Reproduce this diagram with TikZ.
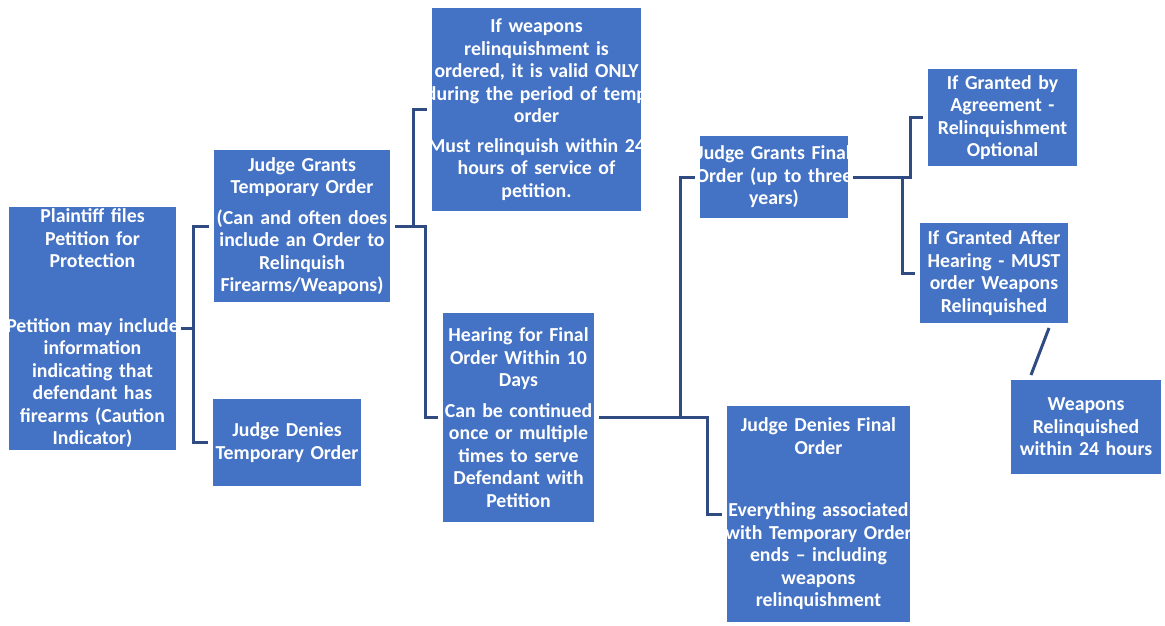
\documentclass[tikz,border=0pt]{standalone}
\usepackage{fontspec}
\setmainfont{Carlito}
\definecolor{boxblue}{HTML}{4472C4}
\definecolor{linkblue}{HTML}{2F4B82}
\begin{document}
\begin{tikzpicture}[x=1pt, y=-1pt,
    stepbox/.style={rectangle, fill=boxblue, text=white, inner xsep=-20pt, inner ysep=0pt,
        outer sep=5pt, align=center, font=\fontsize{19.8}{22.5}\selectfont\bfseries},
    link/.style={draw=linkblue, line width=3pt}]

    \useasboundingbox (0,0) rectangle (1165,626);

    % Cajas de la primera etapa (text width = ancho de caja + 40pt)
    \node[stepbox, text width=207pt, minimum height=243pt] (plaintiff) at (92.5, 328.5)
        {Plaintiff files\\Petition for\\Protection\\[42pt]Petition may include\\information\\indicating that\\defendant has\\firearms (Caution\\Indicator)};
    \node[stepbox, text width=216pt, minimum height=152pt] (tempgrant) at (302, 226)
        {Judge Grants\\Temporary Order\\[8pt](Can and often does\\include an Order to\\Relinquish\\Firearms/Weapons)};
    \node[stepbox, text width=188pt, minimum height=87pt] (tempdeny) at (287, 442.5)
        {Judge Denies\\Temporary Order};

    % Cajas de la orden temporal
    \node[stepbox, text width=249pt, minimum height=203pt] (validonly) at (536.5, 109.5)
        {If weapons\\relinquishment is\\ordered, it is valid ONLY\\during the period of temp\\order\\[7pt]Must relinquish within 24\\hours of service of\\petition.};
    \node[stepbox, text width=191pt, minimum height=209pt] (hearing) at (518.5, 417.5)
        {Hearing for Final\\Order Within 10\\Days\\[8pt]Can be continued\\once or multiple\\times to serve\\Defendant with\\Petition};

    % Cajas de la orden final
    \node[stepbox, text width=188pt, minimum height=82pt] (finalgrant) at (774, 177)
        {Judge Grants Final\\Order (up to three\\years)};
    \node[stepbox, text width=223pt, minimum height=216pt] (finaldeny) at (818.5, 514)
        {Judge Denies Final\\Order\\[40pt]Everything associated\\with Temporary Order\\ends – including\\weapons\\relinquishment};
    \node[stepbox, text width=189pt, minimum height=97pt] (agreement) at (1002.5, 117.5)
        {If Granted by\\Agreement -\\Relinquishment\\Optional};
    \node[stepbox, text width=188pt, minimum height=100pt] (afterhearing) at (994, 273)
        {If Granted After\\Hearing - MUST\\order Weapons\\Relinquished};
    \node[stepbox, text width=190pt, minimum height=94pt] (within24) at (1086, 427)
        {Weapons\\Relinquished\\within 24 hours};

    % Conectores en forma de corchete
    \foreach \kid in {tempgrant, tempdeny} {
        \draw[link] (plaintiff.east) -- ++(12,0) |- (\kid.west);
    }
    \foreach \kid/\run in {validonly/18, hearing/30} {
        \draw[link] (tempgrant.east) -- ++(\run,0) |- (\kid.west);
    }
    \foreach \kid/\run in {finalgrant/81, finaldeny/108} {
        \draw[link] (hearing.east) -- ++(\run,0) |- (\kid.west);
    }
    \foreach \kid/\run in {agreement/57, afterhearing/49} {
        \draw[link] (finalgrant.east) -- ++(\run,0) |- (\kid.west);
    }
    \draw[link] ([xshift=55pt]afterhearing.south) -- ([xshift=-55pt]within24.north); % Linea diagonal

\end{tikzpicture}
\end{document}
